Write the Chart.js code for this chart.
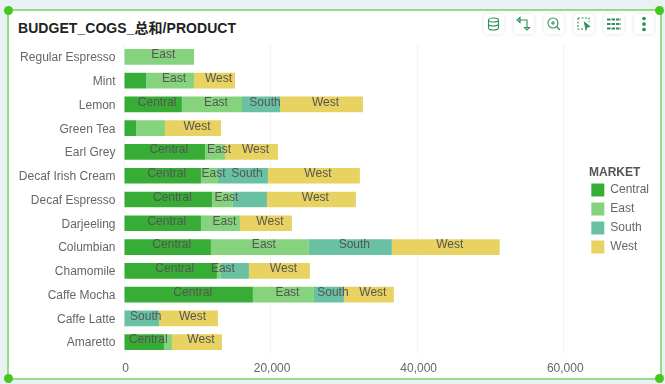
<!DOCTYPE html>
<html>
<head>
<meta charset="utf-8">
<script src="https://cdn.jsdelivr.net/npm/chart.js@4"></script>
<style>
html, body { margin: 0; padding: 0; width: 665px; height: 384px; overflow: hidden; background: #e9f1f5; font-family: "Liberation Sans", Arial, sans-serif; }
#card { position: absolute; left: 7px; top: 9px; width: 651px; height: 367px; background: #fff; border: 2px solid #93dd83; }
.handle { position: absolute; width: 9px; height: 9px; border-radius: 50%; background: #47c71d; }
#title { position: absolute; left: 18px; top: 17px; font-size: 14px; font-weight: bold; letter-spacing: 0.05px; color: #222; font-family: "Liberation Sans", "Noto Sans CJK SC", sans-serif; white-space: nowrap; }
canvas { position: absolute; left: 0; top: 0; }
.btn { position: absolute; top: 14px; width: 20px; height: 20px; background: #fff; border-radius: 4px; box-shadow: 0 0 4px rgba(0,0,0,0.12); }
.btn svg { display: block; width: 20px; height: 20px; fill: none; stroke: #2f8f5b; stroke-width: 1.1; }
</style>
</head>
<body>
<div id="card"></div>
<div class="handle" style="left:4px;top:6px"></div>
<div class="handle" style="left:655px;top:6px"></div>
<div class="handle" style="left:4px;top:374px"></div>
<div class="handle" style="left:655px;top:374px"></div>
<div id="title">BUDGET_COGS_总和/PRODUCT</div>
<canvas id="chart" width="665" height="384"></canvas>

<div class="btn" style="left:484px"><svg viewBox="0 0 20 20"><ellipse cx="9.500" cy="6" rx="5" ry="2"/><path d="M4.500 6v8c0 1 2 2 5 2s5-1 5-2V6M4.500 10c0 1 2 2 5 2s5-1 5-2"/></svg></div>
<div class="btn" style="left:514px"><svg viewBox="0 0 20 20"><path d="M5 6h8v8M3 6l3-2.500V8.500zM10.500 13.500h5l-2.500 2.500z"/></svg></div>
<div class="btn" style="left:544px"><svg viewBox="0 0 20 20"><circle cx="9" cy="9" r="5"/><path d="M9 7v4M7 9h4M12.500 12.500l3.500 3.500"/></svg></div>
<div class="btn" style="left:574px"><svg viewBox="0 0 20 20"><path d="M4 4h11v4M4 4v11h5" stroke-dasharray="2 1.500"/><path d="M10.500 8.500l5 4-2.500.5-1 2.500z" fill="#2f8f5b"/></svg></div>
<div class="btn" style="left:604px"><svg viewBox="0 0 20 20"><path d="M3 5.500h14M3 10h14M3 14.500h14" stroke-width="2" stroke-dasharray="3.500 1"/></svg></div>
<div class="btn" style="left:634px"><svg viewBox="0 0 20 20"><circle cx="10" cy="4.500" r="1.300" fill="#2f8f5b"/><circle cx="10" cy="10" r="1.300" fill="#2f8f5b"/><circle cx="10" cy="15.500" r="1.300" fill="#2f8f5b"/></svg></div>

<script>
// Donnees
const products = ['Regular Espresso', 'Mint', 'Lemon', 'Green Tea', 'Earl Grey', 'Decaf Irish Cream', 'Decaf Espresso', 'Darjeeling', 'Columbian', 'Chamomile', 'Caffe Mocha', 'Caffe Latte', 'Amaretto'];
const central = [0, 3000, 7900, 1640, 11050, 10500, 12000, 10500, 11860, 12680, 17590, 0, 5450];
const east = [9550, 6550, 8200, 3950, 2730, 2320, 2860, 5320, 13360, 545, 8320, 0, 1090];
const south = [0, 0, 5200, 0, 0, 6820, 4640, 0, 11320, 3820, 4090, 4770, 0];
const west = [0, 5600, 11300, 7640, 7230, 12550, 12140, 7090, 14730, 8320, 6820, 8050, 6820];
const xTicks = [0, 20000, 40000, 60000];
// Etiquettes masquees dans l'original
const hiddenLabels = ['Mint/Central', 'Green Tea/Central', 'Green Tea/East', 'Amaretto/East', 'Chamomile/South', 'Decaf Espresso/South'];

const segmentLabels = {
    id: 'segmentLabels',
    // le titre est centre sur la largeur de la legende : on la reduit pour le placer
    afterLayout(chart) {
        chart.legend.width -= 15;
    },
    afterDatasetsDraw(chart) {
        const ctx = chart.ctx;
        ctx.save();
        ctx.font = '12px "Liberation Sans", Arial, sans-serif';
        ctx.fillStyle = '#555';
        ctx.textAlign = 'center';
        ctx.textBaseline = 'middle';
        chart.data.datasets.forEach((ds, i) => {
            chart.getDatasetMeta(i).data.forEach((bar, j) => {
                if (!ds.data[j] || hiddenLabels.includes(products[j] + '/' + ds.label)) return;
                ctx.fillText(ds.label, (bar.x + bar.base) / 2 + 4, bar.y - 2);
            });
        });
        ctx.restore();
    }
};

new Chart(document.getElementById('chart'), {
    type: 'bar',
    data: {
        labels: products,
        datasets: [
            { label: 'Central', data: central, backgroundColor: '#38ad36' },
            { label: 'East', data: east, backgroundColor: '#86d37d' },
            { label: 'South', data: south, backgroundColor: '#68c1a3' },
            { label: 'West', data: west, backgroundColor: '#e8d262' },
        ],
    },
    options: {
        indexAxis: 'y',
        responsive: false,
        animation: false,
        barPercentage: 0.66,
        categoryPercentage: 1,
        layout: { padding: { top: 45, bottom: 0, left: 0, right: 6 } },
        scales: {
            x: {
                stacked: true,
                min: 0,
                max: 62945,
                afterBuildTicks(scale) { scale.ticks = xTicks.map(v => ({ value: v })); },
                afterFit(scale) { scale.height = 30; },
                grid: { color: '#f3f3f3', drawTicks: false },
                border: { display: false },
                ticks: { color: '#666', font: { size: 12 }, maxRotation: 0, padding: 7, labelOffset: 1.5 },
            },
            y: {
                stacked: true,
                afterFit(scale) { scale.width = 124; },
                grid: { display: false },
                border: { display: false },
                ticks: { color: '#666', font: { size: 12 }, padding: 0.5, autoSkip: false, labelOffset: 1 },
            },
        },
        plugins: {
            tooltip: { enabled: false },
            legend: {
                position: 'right',
                align: 'start',
                title: { display: true, text: 'MARKET', position: 'center', color: '#555', font: { size: 12, weight: 'bold' }, padding: { top: 122, bottom: -4 } },
                labels: { boxWidth: 13, boxHeight: 13, padding: 6, color: '#666', font: { size: 12 } },
            },
        },
    },
    plugins: [segmentLabels],
});
</script>
</body>
</html>
